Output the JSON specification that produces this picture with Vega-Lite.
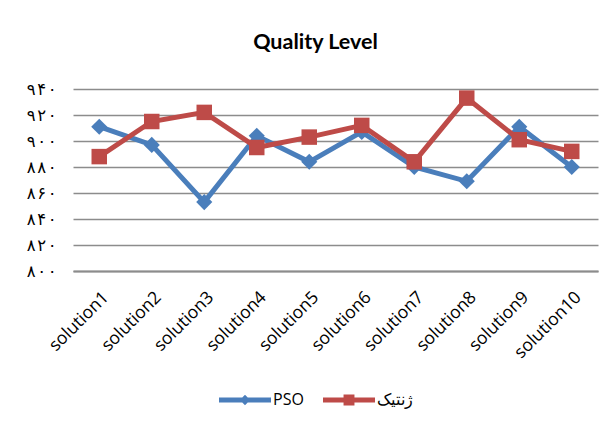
{
  "$schema": "https://vega.github.io/schema/vega-lite/v6.json",
  "autosize": "none",
  "width": 525,
  "height": 182,
  "padding": {"left": 73, "top": 89, "right": 18, "bottom": 156},
  "background": "white",
  "config": {
    "font": "Lato",
    "view": {"stroke": null}
  },
  "title": {
    "text": "Quality Level",
    "font": "Lato",
    "fontSize": 21.5,
    "fontWeight": "bold",
    "color": "#000000",
    "anchor": "middle",
    "dx": -20,
    "offset": 28,
    "frame": "group"
  },
  "data": {
    "values": [
      {"solution": "solution1", "series": "PSO", "value": 911},
      {"solution": "solution2", "series": "PSO", "value": 897},
      {"solution": "solution3", "series": "PSO", "value": 853},
      {"solution": "solution4", "series": "PSO", "value": 904},
      {"solution": "solution5", "series": "PSO", "value": 884},
      {"solution": "solution6", "series": "PSO", "value": 907},
      {"solution": "solution7", "series": "PSO", "value": 880},
      {"solution": "solution8", "series": "PSO", "value": 869},
      {"solution": "solution9", "series": "PSO", "value": 911},
      {"solution": "solution10", "series": "PSO", "value": 880},
      {"solution": "solution1", "series": "ژنتیک", "value": 888},
      {"solution": "solution2", "series": "ژنتیک", "value": 915},
      {"solution": "solution3", "series": "ژنتیک", "value": 922},
      {"solution": "solution4", "series": "ژنتیک", "value": 895},
      {"solution": "solution5", "series": "ژنتیک", "value": 903},
      {"solution": "solution6", "series": "ژنتیک", "value": 912},
      {"solution": "solution7", "series": "ژنتیک", "value": 884},
      {"solution": "solution8", "series": "ژنتیک", "value": 933},
      {"solution": "solution9", "series": "ژنتیک", "value": 901},
      {"solution": "solution10", "series": "ژنتیک", "value": 892}
    ]
  },
  "encoding": {
    "x": {
      "field": "solution",
      "type": "nominal",
      "sort": null,
      "scale": {"type": "point", "padding": 0.5},
      "axis": {
        "title": null,
        "labelAngle": -45,
        "labelAlign": "right",
        "labelBaseline": "top",
        "labelFontSize": 17.5,
        "labelColor": "#000000",
        "labelPadding": 17,
        "labelFont": "Open Sans",
        "ticks": false,
        "domain": true,
        "domainColor": "#8c8c8c",
        "domainWidth": 2,
        "grid": false
      }
    },
    "y": {
      "field": "value",
      "type": "quantitative",
      "scale": {"domain": [800, 940], "nice": false, "zero": false},
      "axis": {
        "title": null,
        "values": [800, 820, 840, 860, 880, 900, 920, 940],
        "labelExpr": "trim(replace(replace(replace(replace(replace(replace(datum.label, /0/g, '۰\u200a'), /2/g, '۲\u200a'), /4/g, '۴\u200a'), /6/g, '۶\u200a'), /8/g, '۸\u200a'), /9/g, '۹\u200a'))",
        "labelFontSize": 16.5,
        "labelFont": "DejaVu Sans",
        "labelColor": "#000000",
        "labelPadding": 17,
        "ticks": false,
        "domain": false,
        "grid": true,
        "gridColor": "#8c8c8c",
        "gridWidth": 1.6
      }
    },
    "color": {
      "field": "series",
      "type": "nominal",
      "scale": {"domain": ["PSO", "ژنتیک"], "range": ["#4a7ebb", "#be4b48"]},
      "legend": {
        "title": null,
        "orient": "none",
        "direction": "horizontal",
        "legendX": 146,
        "legendY": 285,
        "labelFontSize": 16,
        "labelFont": "Open Sans",
        "labelColor": "#000000",
        "labelOffset": 2,
        "columnPadding": 19,
        "symbolSize": 2704,
        "symbolOpacity": 1,
        "symbolStrokeWidth": 0,
        "encode": {
          "symbols": {
            "update": {
              "fill": {"signal": "datum.value == 'PSO' ? '#4a7ebb' : '#be4b48'"},
              "strokeWidth": {"value": 0},
              "shape": {"signal": "datum.value == 'PSO' ? 'M-1,-0.1L1,-0.1L1,0.1L-1,0.1Z M0,-0.2L0.2,0L0,0.2L-0.2,0Z' : 'M-1,-0.1L1,-0.1L1,0.1L-1,0.1Z M-0.21,-0.21L0.21,-0.21L0.21,0.21L-0.21,0.21Z'"}
            }
          }
        }
      }
    }
  },
  "layer": [
    {
      "mark": {"type": "line", "strokeWidth": 5}
    },
    {
      "transform": [{"filter": "datum.series == 'PSO'"}],
      "mark": {"type": "point", "filled": true, "opacity": 1, "shape": "diamond", "size": 260}
    },
    {
      "transform": [{"filter": "datum.series != 'PSO'"}],
      "mark": {"type": "point", "filled": true, "opacity": 1, "shape": "square", "size": 240}
    }
  ]
}
